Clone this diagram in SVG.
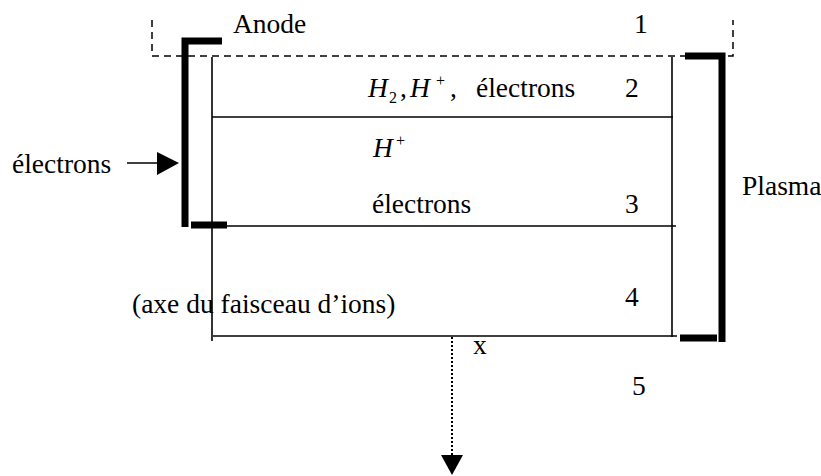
<svg xmlns="http://www.w3.org/2000/svg" width="821" height="476" viewBox="0 0 821 476">
<style>
.lbl{font-family:'Liberation Serif','Times New Roman',Times,serif;font-size:27.5px;fill:#000}
.it{font-style:italic}
.sm{font-size:16px}
.thin{stroke:#000;stroke-width:1.6;fill:none}
.thick{stroke:#000;stroke-width:7;fill:none}
.dash{stroke:#000;stroke-width:1.5;fill:none;stroke-dasharray:7,5}
</style>
<rect width="821" height="476" fill="#fff"/>
<g id="anode-frame">
<path class="dash" d="M152,20 V56 H733 V20"/>
</g>
<g id="chamber">
<line class="thin" x1="212" y1="57" x2="212" y2="341"/>
<line class="thin" x1="672" y1="57" x2="672" y2="337"/>
<line class="thin" x1="212" y1="117" x2="673" y2="117"/>
<line class="thin" x1="212" y1="226" x2="676" y2="226"/>
<line class="thin" x1="213" y1="336" x2="677" y2="336"/>
</g>
<g id="left-bracket">
<path class="thick" d="M222,41 H185 V227"/>
<line class="thick" x1="191" y1="225" x2="227" y2="225"/>
</g>
<g id="right-bracket">
<path class="thick" d="M685,56 H722 V342"/>
<line class="thick" x1="680" y1="338" x2="717" y2="338"/>
</g>
<g id="connectors">
<line class="thin" x1="127" y1="163" x2="160" y2="163"/>
<polygon points="157,152 157,175 179,163" fill="#000"/>
<line x1="452" y1="337" x2="452" y2="456" stroke="#000" stroke-width="2" stroke-dasharray="2,2"/>
<polygon points="441,455 463,455 452,475" fill="#000"/>
</g>
<g id="labels" class="lbl">
<text x="233" y="33">Anode</text>
<text x="634" y="33">1</text>
<text y="97"><tspan class="it" x="368">H</tspan><tspan class="sm" x="389" dy="6">2</tspan><tspan x="400" dy="-6">,</tspan><tspan class="it" x="410">H</tspan><tspan class="sm" x="436" dy="-11">+</tspan><tspan x="450" dy="11">,</tspan><tspan x="476">électrons</tspan></text>
<text x="625" y="97">2</text>
<text y="157"><tspan class="it" x="373">H</tspan><tspan class="sm" x="396" dy="-11">+</tspan></text>
<text x="372" y="213">électrons</text>
<text x="625" y="213">3</text>
<text x="12" y="173">électrons</text>
<text x="742" y="195">Plasma</text>
<text x="132" y="313">(axe du faisceau d’ions)</text>
<text x="625" y="306">4</text>
<text x="473" y="354">x</text>
<text x="632" y="395">5</text>
</g>
</svg>
